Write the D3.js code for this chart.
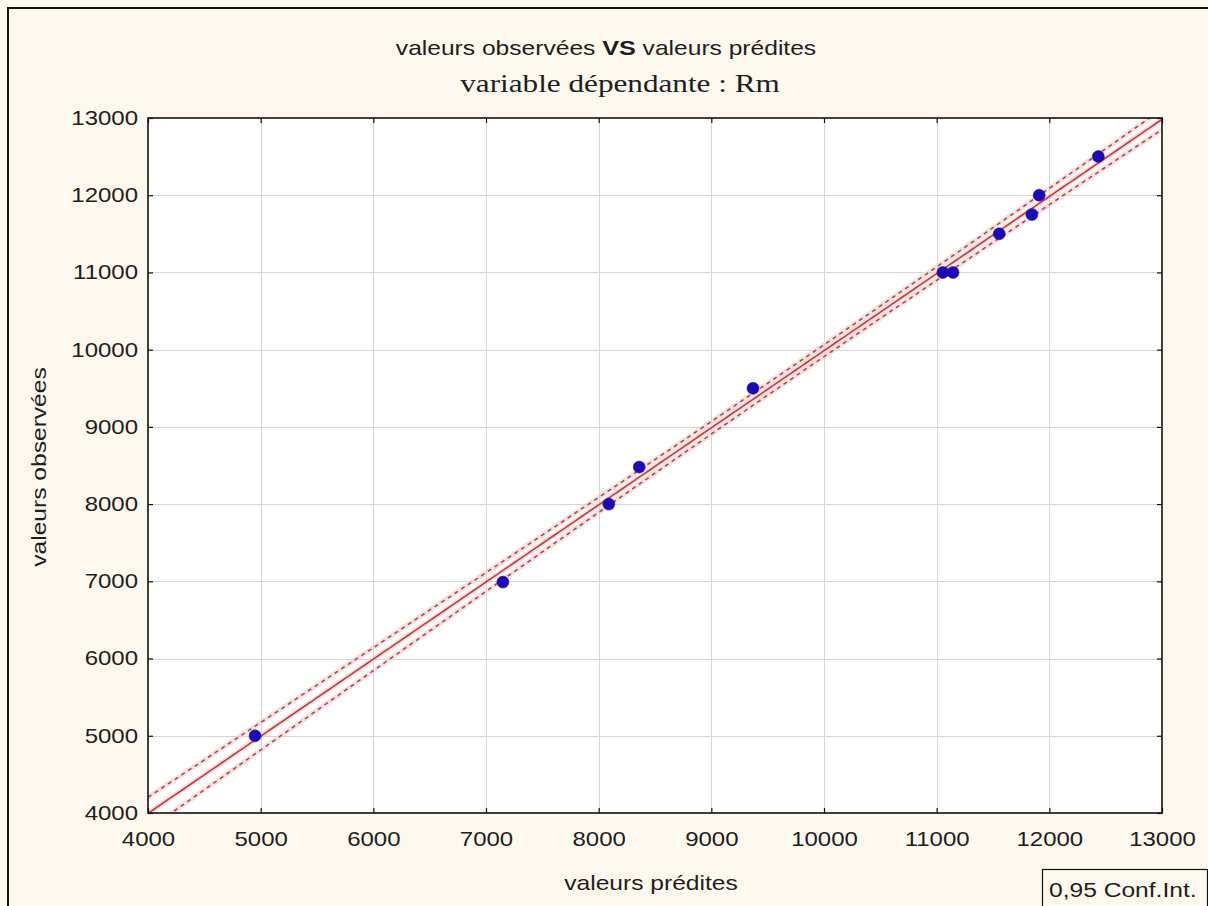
<!DOCTYPE html>
<html>
<head>
<meta charset="utf-8">
<script src="https://cdn.jsdelivr.net/npm/d3@7"></script>
<style>
  html, body { margin: 0; padding: 0; background: #fdf9ee; }
  svg { display: block; }
</style>
</head>
<body>
<svg id="chart" width="1208" height="906"></svg>
<script>
// Observed vs predicted values for the dependent variable Rm
const predicted = [4950, 7150, 8090, 8360, 9370, 11055, 11145, 11555, 11845, 11910, 12435];
const observed  = [5000, 6990, 8000, 8480, 9500, 11000, 11000, 11500, 11750, 12000, 12500];
const xTicks = [4000, 5000, 6000, 7000, 8000, 9000, 10000, 11000, 12000, 13000];
const yTicks = [4000, 5000, 6000, 7000, 8000, 9000, 10000, 11000, 12000, 13000];
const confLevel = 0.95;
const tCrit = 2.262; // Student t, 9 degrees of freedom, two-sided 95%

const W = 1208, H = 906;
const plot = { left: 148, right: 1162, top: 118, bottom: 813 };
const SX = 1.2;              // wide letterforms of the original output
const sans = "'Liberation Sans', Arial, sans-serif";
const serif = "'Liberation Serif', 'Times New Roman', serif";
const ink = "#1e1e1e";

const svg = d3.select("#chart");

// outer frame
svg.append("rect")
  .attr("x", 8).attr("y", 8).attr("width", W + 10).attr("height", H + 10)
  .attr("fill", "#fdf9ee").attr("stroke", "#111").attr("stroke-width", 2);

const x = d3.scaleLinear().domain([4000, 13000]).range([plot.left, plot.right]);
const y = d3.scaleLinear().domain([4000, 13000]).range([plot.bottom, plot.top]);

// plot background
svg.append("rect")
  .attr("x", plot.left).attr("y", plot.top)
  .attr("width", plot.right - plot.left).attr("height", plot.bottom - plot.top)
  .attr("fill", "#ffffff");

// grid
const grid = svg.append("g").attr("stroke", "#d6d6d6").attr("stroke-width", 1);
grid.selectAll("line.gx").data(xTicks.slice(1, -1)).join("line")
  .attr("x1", d => Math.round(x(d)) + 0.5).attr("x2", d => Math.round(x(d)) + 0.5)
  .attr("y1", plot.top).attr("y2", plot.bottom);
grid.selectAll("line.gy").data(yTicks.slice(1, -1)).join("line")
  .attr("y1", d => Math.round(y(d)) + 0.5).attr("y2", d => Math.round(y(d)) + 0.5)
  .attr("x1", plot.left).attr("x2", plot.right);

// least squares fit of observed on predicted, with confidence band for the mean
const n = predicted.length;
const xm = d3.mean(predicted), ym = d3.mean(observed);
let sxx = 0, sxy = 0;
predicted.forEach((p, i) => { sxx += (p - xm) ** 2; sxy += (p - xm) * (observed[i] - ym); });
const slope = sxy / sxx, intercept = ym - slope * xm;
let sse = 0;
predicted.forEach((p, i) => { sse += (observed[i] - (intercept + slope * p)) ** 2; });
const s = Math.sqrt(sse / (n - 2));
const fit = v => intercept + slope * v;
const half = v => tCrit * s * Math.sqrt(1 / n + (v - xm) ** 2 / sxx);

const xs = d3.range(4000, 13000.1, 50);

svg.append("clipPath").attr("id", "plotclip")
  .append("rect")
  .attr("x", plot.left).attr("y", plot.top)
  .attr("width", plot.right - plot.left).attr("height", plot.bottom - plot.top);

const lines = svg.append("g").attr("clip-path", "url(#plotclip)");
const lineGen = fn => d3.line().x(d => x(d)).y(d => y(fn(d)))(xs);

// soft halo behind the fit and band lines
[v => fit(v), v => fit(v) + half(v), v => fit(v) - half(v)].forEach(fn => {
  lines.append("path").attr("d", lineGen(fn))
    .attr("fill", "none").attr("stroke", "#f6c9c9").attr("stroke-width", 5).attr("opacity", 0.6);
});
lines.append("path").attr("d", lineGen(v => fit(v)))
  .attr("fill", "none").attr("stroke", "#c83a3a").attr("stroke-width", 1.6);
[v => fit(v) + half(v), v => fit(v) - half(v)].forEach(fn => {
  lines.append("path").attr("d", lineGen(fn))
    .attr("fill", "none").attr("stroke", "#9a4a4c").attr("stroke-width", 1.5)
    .attr("stroke-dasharray", "4,4");
});

// points
svg.append("g").selectAll("circle").data(predicted).join("circle")
  .attr("cx", d => x(d)).attr("cy", (d, i) => y(observed[i]))
  .attr("r", 6).attr("fill", "#1c0ab8").attr("stroke", "#2a1a9a").attr("stroke-width", 0.6);

// plot frame
svg.append("rect")
  .attr("x", plot.left).attr("y", plot.top)
  .attr("width", plot.right - plot.left).attr("height", plot.bottom - plot.top)
  .attr("fill", "none").attr("stroke", "#111").attr("stroke-width", 1.6);

// inward ticks on all four sides
const fmt = d3.format("d");
const tickLen = 5;
const fontSize = 20;
const gx = svg.append("g").attr("transform", `translate(0,${plot.bottom})`)
  .call(d3.axisBottom(x).tickValues(xTicks).tickSize(-tickLen).tickPadding(19).tickFormat(fmt))
  .call(g => g.select(".domain").remove());
svg.append("g").attr("transform", `translate(0,${plot.top})`)
  .call(d3.axisTop(x).tickValues(xTicks).tickSize(-tickLen).tickFormat(""))
  .call(g => g.select(".domain").remove());
const gy = svg.append("g").attr("transform", `translate(${plot.left},0)`)
  .call(d3.axisLeft(y).tickValues(yTicks).tickSize(-tickLen).tickPadding(10).tickFormat(fmt))
  .call(g => g.select(".domain").remove());
svg.append("g").attr("transform", `translate(${plot.right},0)`)
  .call(d3.axisRight(y).tickValues(yTicks).tickSize(-tickLen).tickFormat(""))
  .call(g => g.select(".domain").remove());

svg.selectAll(".tick line").attr("stroke", "#111").attr("stroke-width", 1.2);
svg.selectAll(".tick text")
  .attr("font-family", sans).attr("font-size", fontSize).attr("fill", ink);
gx.selectAll(".tick text").attr("transform", `scale(${SX},1)`);
gy.selectAll(".tick text")
  .attr("x", -10 / SX)
  .attr("transform", `scale(${SX},1)`);

// titles
const title = svg.append("text")
  .attr("transform", `translate(606,55) scale(${SX},1)`)
  .attr("text-anchor", "middle")
  .attr("font-family", sans).attr("font-size", 20.5).attr("fill", ink);
title.append("tspan").text("valeurs observées ");
title.append("tspan").attr("font-weight", "bold").attr("font-size", 21).text("VS");
title.append("tspan").text(" valeurs prédites");

svg.append("text")
  .attr("transform", `translate(620,92) scale(${SX},1)`)
  .attr("text-anchor", "middle")
  .attr("font-family", serif).attr("font-size", 26).attr("fill", ink)
  .text("variable dépendante : Rm");

svg.append("text")
  .attr("transform", `translate(651,890) scale(${SX},1)`)
  .attr("text-anchor", "middle")
  .attr("font-family", sans).attr("font-size", 20.5).attr("fill", ink)
  .text("valeurs prédites");

svg.append("text")
  .attr("transform", `translate(46,467) rotate(-90) scale(${SX},1)`)
  .attr("text-anchor", "middle")
  .attr("font-family", sans).attr("font-size", 20.5).attr("fill", ink)
  .text("valeurs observées");

// confidence legend box
svg.append("rect")
  .attr("x", 1042.5).attr("y", 869.5).attr("width", 165).attr("height", 50)
  .attr("fill", "#fdf9ee").attr("stroke", "#111").attr("stroke-width", 1.2);
svg.append("text")
  .attr("transform", `translate(1049,897) scale(${SX},1)`)
  .attr("font-family", sans).attr("font-size", 20.5).attr("fill", ink)
  .text(`${String(confLevel).replace(".", ",")} Conf.Int.`);
</script>
</body>
</html>
